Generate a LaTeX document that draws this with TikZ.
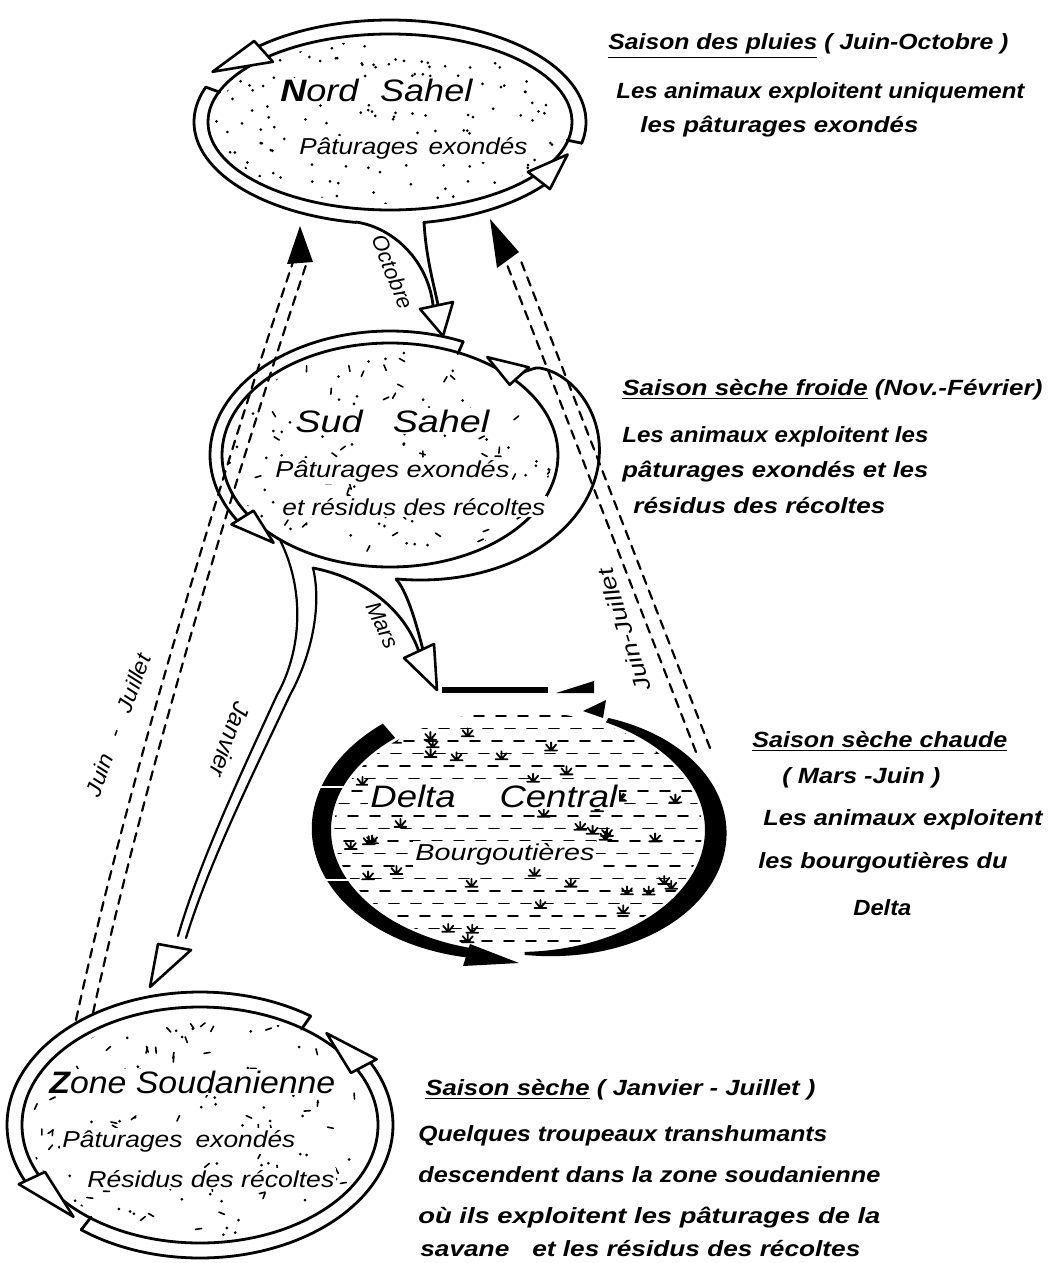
\documentclass[tikz,border=0pt]{standalone}
\usepackage{fontspec}
\setmainfont{Liberation Sans}
\usepackage{graphicx}
\usetikzlibrary{shapes.geometric}
\newcommand\fitw[2]{\resizebox{\dimexpr #1pt/2\relax}{\height}{#2}}
\newcommand\ttlf{\fontsize{15.5}{18}\selectfont\itshape}
\newcommand\sbtf{\fontsize{11.5}{14}\selectfont\itshape}
\newcommand\ntef{\fontsize{11}{13}\selectfont\bfseries\itshape}
\newcommand\arlf{\fontsize{11}{13}\selectfont\itshape}
\newcommand\undl[1]{\underline{#1}}
\newcommand\outerarc[7]{\draw[bandln] plot[domain=#6:#7,samples=50,smooth] ({#1+(#3+#5)*cos(\x)},{#2+(#4+#5)*sin(\x)});}
\newcommand\vararc[8]{\draw[bandln] plot[domain=#7:#8,samples=70,smooth] ({#1+(#3+#5+#6*sin(180*sqrt((\x-(#7))/((#8)-(#7)))))*cos(\x)},{#2+(#4+#5+#6*sin(180*sqrt((\x-(#7))/((#8)-(#7)))))*sin(\x)});}
\newcommand\flatcut[6]{\draw[bandln] ({#1+(#3-1)*cos(#6)},{#2+(#4-1)*sin(#6)}) -- ({#1+(#3+#5)*cos(#6)},{#2+(#4+#5)*sin(#6)});}
\newcommand\openhead[8]{\filldraw[headln] ({#1+(#3-7)*cos(#6)},{#2+(#4-7)*sin(#6)}) -- ({#1+(#3+#5+7)*cos(#6)},{#2+(#4+#5+7)*sin(#6)}) -- ({#1+(#3+#5/2+#8)*cos(#7)},{#2+(#4+#5/2+#8)*sin(#7)}) -- cycle;}
\newcommand\crescent[9]{\fill plot[domain=0:1,samples=60,smooth] ({#1+(#3+#7+(#8-#7)*\x+#9*sin(180*\x))*cos(#5+(#6-#5)*\x)},{#2+(#4+#7+(#8-#7)*\x+#9*sin(180*\x))*sin(#5+(#6-#5)*\x)}) -- plot[domain=0:1,samples=40,smooth] ({#1+(#3-1)*cos(#6+(#5-#6)*\x)},{#2+(#4-1)*sin(#6+(#5-#6)*\x)}) -- cycle;}
\newcommand\sdots[5]{\begin{scope}\clip (#1,#2) ellipse [x radius=#3, y radius=#4];
  \foreach \i in {1,...,#5}{\fill ({#1-#3+2*#3*rnd},{#2-#4+2*#4*rnd}) circle [radius=1.5];}\end{scope}}
\newcommand\sdash[5]{\begin{scope}\clip (#1,#2) ellipse [x radius=#3, y radius=#4];
  \foreach \i in {1,...,#5}{\pgfmathsetmacro\px{#1-#3+2*#3*rnd}\pgfmathsetmacro\py{#2-#4+2*#4*rnd}\pgfmathsetmacro\pa{360*rnd}\draw[line width=0.8pt] (\px,\py) -- ++(\pa:6);}\end{scope}}
\newcommand\tuft[2]{\draw[tuftln] (#1,#2) -- ++(-5,-6) (#1,#2) -- ++(0,-8) (#1,#2) -- ++(5,-6) ({#1-6},#2) -- ({#1+6},#2);}
\begin{document}
\begin{tikzpicture}[x=0.5pt,y=-0.5pt,line cap=round,line join=round,
  bandln/.style={line width=1.4pt},
  thinband/.style={line width=1.1pt},
  headln/.style={line width=1.3pt,fill=white},
  ell/.style={ellipse,draw,line width=1.4pt,inner sep=0pt,outer sep=0pt},
  dsh/.style={line width=1.1pt,dash pattern=on 4.5pt off 3.5pt},
  rowdash/.style={line width=0.9pt,dash pattern=on 5pt off 6pt},
  tuftln/.style={line width=0.9pt},
  lbl/.style={inner sep=1pt,anchor=base west,fill=white},
  note/.style={inner sep=0pt,anchor=base west},
  arclbl/.style={inner sep=0pt}]
\useasboundingbox (0,0) rectangle (1054,1263);
\pgfmathsetseed{7}

% ================= Nord Sahel
\sdots{390}{122}{176}{82}{170}
\node[ell,minimum width=182pt,minimum height=88pt] (N) at (390,122) {};
\node[lbl] (Nt) at (278,102) {\ttlf\fitw{192}{{\bfseries N}ord\hspace{0.6em}Sahel}};
\node[lbl] (Ns) at (297,155) {\sbtf\fitw{228}{Pâturages\hspace{0.4em}exondés}};
\outerarc{390}{122}{182}{88}{14}{-132}{12}
\flatcut{390}{122}{182}{88}{14}{12}
\openhead{390}{122}{182}{88}{14}{-132}{-152}{12}
\outerarc{390}{122}{182}{88}{14}{-260}{-160}
\flatcut{390}{122}{182}{88}{14}{-160}
\outerarc{390}{122}{182}{88}{14}{-322}{-280}
\openhead{390}{122}{182}{88}{14}{-322}{-340}{0}

% ================= Sud Sahel
\sdots{390}{455}{162}{106}{80}
\sdash{390}{455}{162}{106}{70}
\node[ell,minimum width=168pt,minimum height=112pt] (S) at (390,455) {};
\node[lbl] (St) at (293,432) {\ttlf\fitw{194}{Sud\hspace{0.8em}Sahel}};
\node[lbl] (Ss1) at (273,477) {\sbtf\fitw{234}{Pâturages exondés}};
\node[lbl] (Ss2) at (280,515) {\sbtf\fitw{263}{et résidus des récoltes}};
\outerarc{390}{455}{168}{112}{12}{-212}{-66}
\flatcut{390}{455}{168}{112}{12}{-66}
\openhead{390}{455}{168}{112}{12}{-212}{-228}{0}
\vararc{390}{455}{168}{112}{12}{30}{-42}{88}
\openhead{390}{455}{168}{112}{12}{-42}{-56}{0}

% ================= Delta Central
\node[ellipse,minimum width=188pt,minimum height=123pt,inner sep=0pt] (D) at (518,830) {};
\begin{scope}
\clip (518,830) ellipse [x radius=184, y radius=119];
\foreach \k in {0,...,19}{\pgfmathsetmacro\yy{716+12.5*\k}\pgfmathsetmacro\xx{320-mod(\k*13,22)}
  \draw[rowdash] (\xx,\yy) -- (720,\yy);}
\foreach \i in {1,...,55}{\pgfmathsetmacro\gx{345+350*rnd}\pgfmathsetmacro\gy{718+228*rnd}\tuft{\gx}{\gy}}
\end{scope}
\node[lbl] (Dt) at (368,807) {\ttlf\fitw{247}{Delta\hspace{1.2em}Central}};
\node[lbl] (Ds) at (413,860) {\sbtf\fitw{179}{Bourgoutières}};
\crescent{518}{830}{188}{123}{-131}{-255}{18}{9}{4}
\fill (470,944) -- (463,966) -- (519,963) -- cycle;
\crescent{518}{830}{188}{123}{88}{-62}{2}{4}{18}
\fill (583,711) -- (606,700) -- (603,718) -- cycle;
\draw[line width=2.6pt,line cap=butt] (442,690) -- (548,690);
\fill (556,693) -- (594,693) -- (594,681) -- cycle;
\draw[white,line width=1.2pt] (305,787) -- (345,787) (320,880) -- (352,880);

% ================= Zone Soudanienne
\sdots{200}{1125}{172}{112}{80}
\sdash{200}{1125}{172}{112}{80}
\node[ell,minimum width=178pt,minimum height=118pt] (Z) at (200,1125) {};
\node[lbl] (Zt) at (47,1093) {\ttlf\fitw{286}{{\bfseries Z}one Soudanienne}};
\node[lbl] (Zs1) at (60,1147) {\sbtf\fitw{233}{Pâturages\hspace{0.5em}exondés}};
\node[lbl] (Zs2) at (85,1187) {\sbtf\fitw{247}{Résidus des récoltes}};
\outerarc{200}{1125}{178}{118}{15}{-205}{-55}
\flatcut{200}{1125}{178}{118}{15}{-55}
\openhead{200}{1125}{178}{118}{15}{-205}{-227}{0}
\outerarc{200}{1125}{178}{118}{15}{-28}{128}
\flatcut{200}{1125}{178}{118}{15}{128}
\openhead{200}{1125}{178}{118}{15}{-28}{-47}{0}

% ================= Octobre (N -> S)
\coordinate (oL) at (356,222); \coordinate (oR) at (424,222);
\coordinate (oLe) at (433,305); \coordinate (oRe) at (438,305);
\coordinate (oT) at (443,336);
\draw[bandln] (oL) .. controls (395,228) and (428,262) .. (oLe);
\draw[bandln] (oR) .. controls (426,258) and (434,285) .. (oRe);
\filldraw[headln] (420,309) -- (453,302) -- (oT) -- cycle;
\node[arclbl,rotate=-68] (oct) at (393,272) {\arlf Octobre};

% ================= Janvier (S -> Z)
\coordinate (jL0) at (280,540); \coordinate (jL1) at (277,695); \coordinate (jL2) at (178,936);
\coordinate (jR0) at (313,568); \coordinate (jR1) at (290,695); \coordinate (jR2) at (186,938);
\coordinate (jT) at (150,987);
\draw[thinband] (jL0) .. controls (305,590) and (302,650) .. (jL1) .. controls (245,765) and (200,860) .. (jL2);
\draw[thinband] (jR0) .. controls (322,605) and (312,655) .. (jR1) .. controls (255,770) and (210,860) .. (jR2);
\filldraw[headln] (158,944) -- (191,950) -- (jT) -- cycle;
\node[arclbl,rotate=-110] (jan) at (230,740) {\fontsize{12}{14}\selectfont\itshape Janvier};

% ================= Mars (S -> D)
\coordinate (mU0) at (313,568); \coordinate (mL0) at (396,579);
\coordinate (mUe) at (419,652); \coordinate (mLe) at (423,650); \coordinate (mT) at (437,690);
\draw[bandln] (mU0) .. controls (365,578) and (405,610) .. (mUe);
\draw[bandln] (mL0) .. controls (406,590) and (415,618) .. (mLe);
\filldraw[headln] (404,658) -- (434,644) -- (mT) -- cycle;
\node[arclbl,rotate=-65] (mars) at (383,625) {\arlf Mars};

% ================= Juin - Juillet (Z -> N), dashed
\coordinate (zl1) at (76,1020); \coordinate (zl2) at (93,1013);
\coordinate (nl1) at (293,262); \coordinate (nl2) at (308,259);
\coordinate (nlT) at (300,226);
\draw[dsh] (zl1) .. controls (130,770) and (230,450) .. (nl1);
\draw[dsh] (zl2) .. controls (147,765) and (245,447) .. (nl2);
\fill (nlT) -- (313,262) -- (287,264) -- cycle;
\node[arclbl,rotate=69.5] (jj1) at (118,725) {\arlf\fitw{150}{Juin\hspace{0.8em}-\hspace{0.8em}Juillet}};

% ================= Juin-Juillet (D -> N), dashed
\coordinate (dr1) at (696,752); \coordinate (dr2) at (710,748);
\coordinate (nr1) at (506,262); \coordinate (nr2) at (519,256);
\coordinate (nrT) at (490,219);
\draw[dsh] (dr1) -- (nr1);
\draw[dsh] (dr2) -- (nr2);
\fill (nrT) -- (519,252) -- (497,268) -- cycle;
\node[arclbl,rotate=108] (jj2) at (624,630) {\arlf\fitw{128}{Juin-Juillet}};

% ================= Notes
\node[note] (n1) at (608,50) {\ntef\fitw{400}{\undl{Saison des pluies} ( Juin-Octobre )}};
\node[note] (n2) at (616,98) {\ntef\fitw{408}{Les animaux exploitent uniquement}};
\node[note] (n3) at (640,132) {\ntef\fitw{278}{les pâturages exondés}};

\node[note] (s1) at (622,395) {\ntef\fitw{420}{\undl{Saison sèche froide} (Nov.-Février)}};
\node[note] (s2) at (622,442) {\ntef\fitw{306}{Les animaux exploitent les}};
\node[note] (s3) at (622,477) {\ntef\fitw{306}{pâturages exondés et les}};
\node[note] (s4) at (633,513) {\ntef\fitw{252}{résidus des récoltes}};

\node[note] (d1) at (752,747) {\ntef\fitw{255}{\undl{Saison sèche chaude}}};
\node[note] (d2) at (782,783) {\ntef\fitw{158}{( Mars -Juin )}};
\node[note] (d3) at (763,825) {\ntef\fitw{279}{Les animaux exploitent}};
\node[note] (d4) at (758,868) {\ntef\fitw{249}{les bourgoutières du}};
\node[note] (d5) at (853,915) {\ntef\fitw{58}{Delta}};

\node[note] (z1) at (425,1095) {\ntef\fitw{390}{\undl{Saison sèche} ( Janvier - Juillet )}};
\node[note] (z2) at (418,1141) {\ntef\fitw{409}{Quelques troupeaux transhumants}};
\node[note] (z3) at (418,1182) {\ntef\fitw{462}{descendent dans la zone soudanienne}};
\node[note] (z4) at (418,1223) {\ntef\fitw{462}{où ils exploitent les pâturages de la}};
\node[note] (z5) at (420,1256) {\ntef\fitw{440}{savane\hspace{0.6em} et les résidus des récoltes}};
\end{tikzpicture}
\end{document}
